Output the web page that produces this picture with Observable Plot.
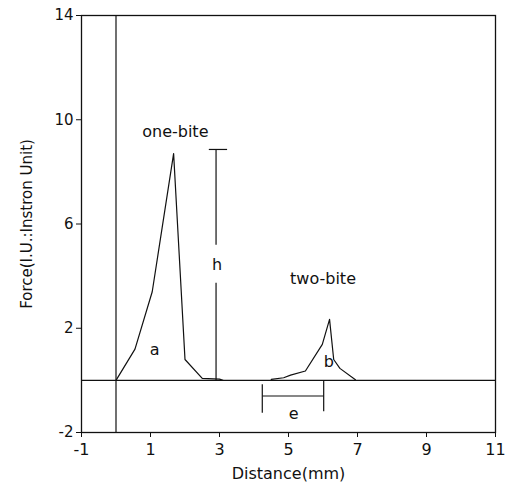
<!DOCTYPE html>
<html>
<head>
<meta charset="utf-8">
<script src="https://cdn.jsdelivr.net/npm/d3@7"></script>
<script src="https://cdn.jsdelivr.net/npm/@observablehq/plot@0.6"></script>
<style>
  html, body { margin: 0; padding: 0; background: #fff; }
  #chart svg { display: block; }
</style>
</head>
<body>
<div id="chart"></div>
<script>
// One-bite force trace
const oneBiteX = [0, 0.55, 1.05, 1.67, 2.0, 2.5, 3.0, 3.1];
const oneBiteY = [0, 1.2, 3.4, 8.7, 0.8, 0.08, 0.05, 0];
// Two-bite force trace
const twoBiteX = [4.5, 4.86, 5.06, 5.49, 5.98, 6.19, 6.31, 6.49, 6.94];
const twoBiteY = [0.04, 0.1, 0.2, 0.36, 1.38, 2.34, 0.8, 0.46, 0.02];
// Annotation h (peak height) and e (distance)
const hX = 2.9, hTop = 8.86, hGapLow = 3.75, hGapHigh = 5.2, hCapLeft = 2.69, hCapRight = 3.22;
const eLeft = 4.24, eRight = 6.02, eY = -0.6, eLeftTop = -0.15, eLeftBottom = -1.24, eRightBottom = -1.18;
// Labels
const labelText = ["one-bite", "two-bite", "a", "b", "h", "e"];
const labelX = [1.72, 6.0, 1.12, 6.17, 2.93, 5.15];
const labelY = [9.53, 3.88, 1.16, 0.72, 4.45, -1.28];
// Ticks
const xTicks = [-1, 1, 3, 5, 7, 9, 11];
const yTicks = [-2, 2, 6, 10, 14];

const oneBite = oneBiteX.map((x, i) => ({x, y: oneBiteY[i]}));
const twoBite = twoBiteX.map((x, i) => ({x, y: twoBiteY[i]}));
const labels = labelText.map((t, i) => ({t, x: labelX[i], y: labelY[i]}));
const hSegs = [
  {x1: hX, x2: hX, y1: 0, y2: hGapLow},
  {x1: hX, x2: hX, y1: hGapHigh, y2: hTop},
  {x1: hCapLeft, x2: hCapRight, y1: hTop, y2: hTop}
];
const eSegs = [
  {x1: eLeft, x2: eRight, y1: eY, y2: eY},
  {x1: eLeft, x2: eLeft, y1: eLeftTop, y2: eLeftBottom},
  {x1: eRight, x2: eRight, y1: 0, y2: eRightBottom}
];
const segs = hSegs.concat(eSegs);
const ink = "#111";
const fmt = d => String(d);

const chart = Plot.plot({
  width: 515,
  height: 488,
  marginLeft: 81,
  marginRight: 20,
  marginTop: 15,
  marginBottom: 56,
  style: {fontFamily: "DejaVu Sans", fontSize: "16px", color: ink, background: "#fff"},
  x: {domain: [-1, 11]},
  y: {domain: [-2, 14]},
  marks: [
    Plot.frame({stroke: ink, strokeWidth: 1.3}),
    Plot.ruleX([0], {stroke: ink, strokeWidth: 1.2}),
    Plot.ruleY([0], {stroke: ink, strokeWidth: 1.4}),
    Plot.axisX({ticks: xTicks, tickFormat: fmt, tickSize: 5, tickPadding: 6, stroke: ink, label: "Distance(mm)", labelArrow: "none", labelAnchor: "center", labelOffset: 46, fontSize: 16}),
    Plot.axisY({ticks: yTicks, tickFormat: fmt, tickSize: 5, tickPadding: 3, stroke: ink, label: "Force(I.U.:Instron Unit)", labelArrow: "none", labelAnchor: "center", labelOffset: 60, fontSize: 15}),
    Plot.line(oneBite, {x: "x", y: "y", stroke: ink, strokeWidth: 1.2}),
    Plot.line(twoBite, {x: "x", y: "y", stroke: ink, strokeWidth: 1.2}),
    Plot.link(segs, {x1: "x1", x2: "x2", y1: "y1", y2: "y2", stroke: ink, strokeWidth: 1.2}),
    Plot.text(labels, {x: "x", y: "y", text: "t", fontSize: 16, fill: ink})
  ]
});
document.getElementById("chart").appendChild(chart);
</script>
</body>
</html>
